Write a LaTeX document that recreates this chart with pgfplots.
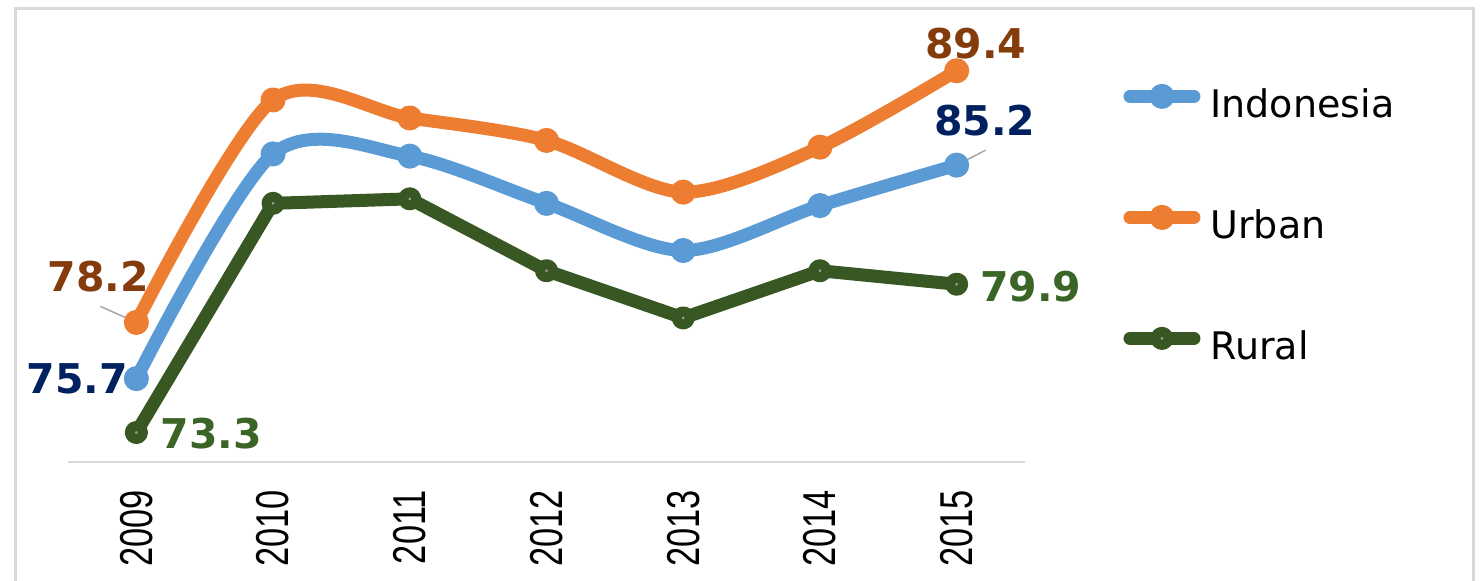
\documentclass[border=0pt]{standalone}
\usepackage{fontspec}
\usepackage{graphicx}
\usepackage{pgfplots}
\pgfplotsset{compat=1.18}
\setmainfont{DejaVu Sans}
\newfontfamily\tickfont{Liberation Sans}

\definecolor{indo}{HTML}{5B9BD5}
\definecolor{urban}{HTML}{ED7D31}
\definecolor{rural}{HTML}{385723}
\definecolor{indotxt}{HTML}{002060}
\definecolor{urbantxt}{HTML}{843C0C}
\definecolor{ruraltxt}{HTML}{3B6427}
\definecolor{framegray}{HTML}{D9D9D9}

\pgfplotstableread{
year indo urban rural
2009 75.7 78.2 73.3
2010 85.7 88.1 83.5
2011 85.6 87.3 83.7
2012 83.5 86.3 80.5
2013 81.4 84.0 78.4
2014 83.4 86.0 80.5
2015 85.2 89.4 79.9
}\datatable

\begin{document}
\begin{tikzpicture}
\useasboundingbox (0,0) rectangle (740.5pt,290pt);
% outer chart frame
\draw[framegray, line width=1.5pt] (7.5pt,-5pt) -- (7.5pt,285.5pt) -- (736.5pt,285.5pt) -- (736.5pt,-5pt);

\begin{axis}[
    at={(34pt,59.15pt)},
    anchor=south west,
    scale only axis,
    width=478.5pt,
    height=202.2pt,
    xmin=2008.5, xmax=2015.5,
    ymin=72, ymax=90,
    clip=false,
    axis x line=bottom,
    axis y line=none,
    x axis line style={-, draw=framegray, line width=1pt},
    xtick={2009,2010,2011,2012,2013,2014,2015},
    xticklabels={
        \scalebox{1}[1.34]{2009},\scalebox{1}[1.34]{2010},\scalebox{1}[1.34]{2011},
        \scalebox{1}[1.34]{2012},\scalebox{1}[1.34]{2013},\scalebox{1}[1.34]{2014},
        \scalebox{1}[1.34]{2015}},
    major tick length=0pt,
    xticklabel shift=14pt,
    xticklabel style={font=\tickfont\fontsize{17.2}{20}\selectfont, rotate=90, anchor=east, inner sep=0pt},
    legend style={
        at={(1.1025,0.9266)},
        anchor=north west,
        draw=none, fill=none,
        inner sep=0pt,
        row sep=38.5pt,
        column sep=0pt,
        font=\fontsize{19}{22}\selectfont,
        nodes={inner sep=0pt, text height=15pt, text depth=7pt},
    },
    legend cell align={left},
    legend image code/.code={
        \draw[mark repeat=2, mark phase=2, #1]
            plot coordinates {(0pt,6.5pt) (16pt,6.5pt) (32pt,6.5pt)};
        \path (37pt,6.5pt);
    },
    every axis plot/.append style={line cap=round, line join=round},
]

\addplot[indo, line width=6.5pt, smooth, mark=*, mark size=4.5pt,
    mark options={solid, line width=3.5pt, draw=indo, fill=indo}]
    table[x=year, y=indo] {\datatable};
\addlegendentry{Indonesia}

\addplot[urban, line width=6.5pt, smooth, mark=*, mark size=4.5pt,
    mark options={solid, line width=3.5pt, draw=urban, fill=urban}]
    table[x=year, y=urban] {\datatable};
\addlegendentry{Urban}

\addplot[rural, line width=6.5pt, mark=*, mark size=3.25pt,
    mark options={solid, line width=5pt, draw=rural, fill=gray!80}]
    table[x=year, y=rural] {\datatable};
\addlegendentry{Rural}

% leader lines
\draw[gray!70, line width=0.75pt] (axis cs:2009,78.2) -- ++(-18pt,8pt);
\draw[gray!70, line width=0.75pt] (axis cs:2015,85.2) -- ++(14.5pt,7.5pt);

% data labels
\begin{scope}[every node/.style={font=\bfseries\fontsize{20.5}{24}\selectfont, inner sep=0pt}]
\node[text=urbantxt] at ([xshift=9.5pt, yshift=13.5pt]axis cs:2015,89.4) {89.4};
\node[text=indotxt] at ([xshift=14pt, yshift=22.5pt]axis cs:2015,85.2) {85.2};
\node[text=ruraltxt, anchor=west] at ([xshift=11.5pt, yshift=-1pt]axis cs:2015,79.9) {79.9};
\node[text=urbantxt] at ([xshift=-19pt, yshift=22.8pt]axis cs:2009,78.2) {78.2};
\node[text=indotxt, anchor=east] at ([xshift=-4pt]axis cs:2009,75.7) {75.7};
\node[text=ruraltxt, anchor=west] at ([xshift=12pt, yshift=-0.6pt]axis cs:2009,73.3) {73.3};
\end{scope}

\end{axis}
\end{tikzpicture}
\end{document}
